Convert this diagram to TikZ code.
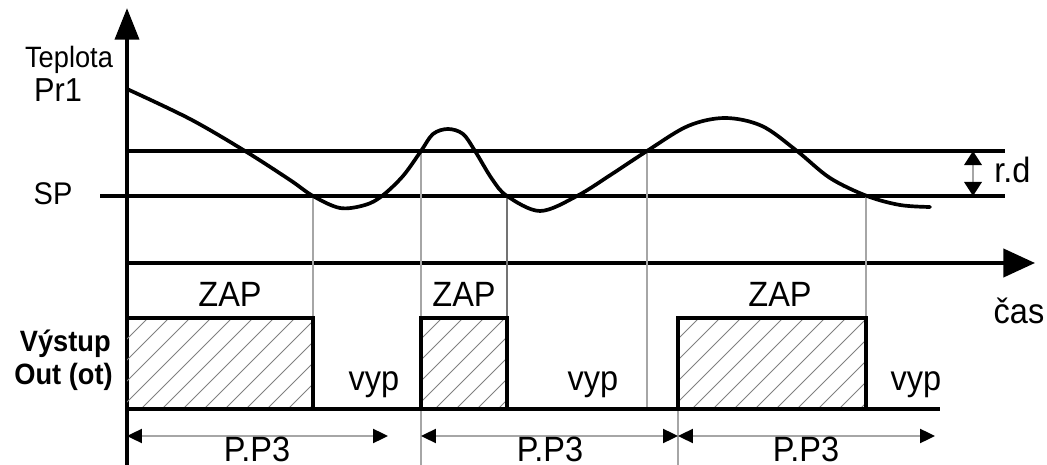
\documentclass[tikz,border=0pt]{standalone}
\usepackage{fontspec}
\setmainfont{Liberation Sans}
\usetikzlibrary{arrows.meta}
\newcommand{\vst}[1]{\scalebox{1}[1.08]{#1}}
\begin{document}
\begin{tikzpicture}[x=0.02cm,y=-0.02cm,
  thickline/.style={line width=2.1pt},
  guide/.style={line width=0.8pt, draw=black!35},
  hatchline/.style={line width=0.55pt, draw=black!50},
  lbl/.style={inner sep=0pt, anchor=base, font=\fontsize{18.5}{20}\selectfont},
  dimline/.style={line width=1.1pt, draw=black!35,
     {Triangle[length=8.5pt,width=8pt,color=black]}-{Triangle[length=8.5pt,width=8pt,color=black]}},
]
\useasboundingbox (0,0) rectangle (1047,465);

% axes
\coordinate (ybot) at (127,470);
\coordinate (ytop) at (127,8);
\coordinate (xl) at (127,263);
\coordinate (xr) at (1035,263);
\draw[line width=2.6pt, -{Triangle[length=18pt,width=13.5pt]}] (ybot) -- (ytop);
\draw[line width=2.1pt, -{Triangle[length=18pt,width=16pt]}] (xl) -- (xr);

% level lines
\coordinate (upL) at (127,151);
\coordinate (upR) at (1005,151);
\coordinate (spL) at (100,196);
\coordinate (spR) at (1005,196);
\draw[thickline] (upL) -- (upR);
\draw[thickline] (spL) -- (spR);

% r.d
\coordinate (rdT) at (973,151);
\coordinate (rdB) at (973,196);
\draw[line width=1pt, draw=black!35,
  {Triangle[length=8pt,width=10pt,color=black]}-{Triangle[length=8pt,width=10pt,color=black]}] (rdT) -- (rdB);
\node[lbl, anchor=base west] (rd) at (994,183) {\vst{r.d}};

% guide lines
\draw[guide] (313,196) -- (313,318);
\draw[guide] (421,151) -- (421,470);
\draw[guide, draw=black!55] (507,196) -- (507,318);
\draw[guide] (647,151) -- (647,409);
\draw[guide] (678,409) -- (678,470);
\draw[guide] (866,196) -- (866,318);

% temperature curve
\draw[line width=2.1pt, line join=round, line cap=round] plot[smooth, tension=0.55] coordinates {
 (127,89) (190,119) (245,151) (290,180) (313,196) (340,208) (365,205) (382,196)
 (403,176) (421,151) (433,134) (448,129) (463,134) (475,151) (492,179) (507,196)
 (540,211) (577,196) (612,174) (647,151) (688,126) (725,118) (762,126) (797,151)
 (830,178) (867,196) (900,205) (930,207)};

% hatching
\foreach \xa/\xb in {127/313, 421/507, 678/866}{
  \begin{scope}
    \clip (\xa,318) rectangle (\xb,409);
    \foreach \s in {0,21,...,300}{
      \draw[hatchline] (\xa-91+\s,409) -- ++(91,-91);
    }
  \end{scope}
}

% output signal
\draw[line width=1.8pt, line join=miter] (127,318) -- (313,318) -- (313,409) -- (421,409)
  -- (421,318) -- (507,318) -- (507,409) -- (678,409) -- (678,318) -- (866,318)
  -- (866,409) -- (940,409);
\draw[line width=1.8pt] (127,409) -- (313,409);
\draw[line width=1.8pt] (421,409) -- (507,409);
\draw[line width=1.8pt] (678,409) -- (866,409);

% P.P3 dimension arrows
\coordinate (p1a) at (127,436);
\coordinate (p1b) at (388,436);
\coordinate (p2a) at (421,436);
\coordinate (p2b) at (678,436);
\coordinate (p3a) at (678,436);
\coordinate (p3b) at (935,436);
\draw[dimline] (p1a) -- (p1b);
\draw[dimline] (p2a) -- (p2b);
\draw[dimline] (p3a) -- (p3b);

% labels
\node[lbl, font=\fontsize{15.5}{16}\selectfont] (tep) at (69,68) {\vst{Teplota}};
\node[lbl, font=\fontsize{17.5}{20}\selectfont] (pr) at (58,102) {\vst{Pr1}};
\node[lbl, font=\fontsize{16.5}{20}\selectfont] (sp) at (53,205) {\vst{SP}};
\node[lbl] (zap1) at (230,307) {\vst{ZAP}};
\node[lbl] (zap2) at (464,307) {\vst{ZAP}};
\node[lbl] (zap3) at (780,307) {\vst{ZAP}};
\node[lbl] (cas) at (1019,324) {\vst{čas}};
\node[lbl] (vyp1) at (374,391) {\vst{vyp}};
\node[lbl] (vyp2) at (593,391) {\vst{vyp}};
\node[lbl] (vyp3) at (916,391) {\vst{vyp}};
\node[lbl, anchor=base east, font=\bfseries\fontsize{15.5}{18}\selectfont] (vy) at (111,352) {\vst{Výstup}};
\node[lbl, anchor=base east, font=\bfseries\fontsize{15.5}{18}\selectfont] (out) at (113,385) {\vst{Out (ot)}};
\node[lbl] (pp1) at (257,461) {\vst{P.P3}};
\node[lbl] (pp2) at (550,461) {\vst{P.P3}};
\node[lbl] (pp3) at (806,461) {\vst{P.P3}};
\end{tikzpicture}
\end{document}
